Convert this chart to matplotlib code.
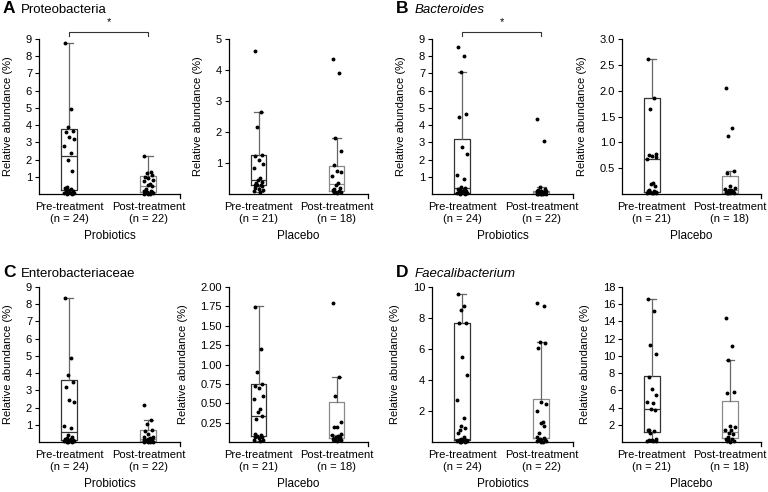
import numpy as np
import matplotlib.pyplot as plt

plt.rcParams['font.family'] = ['Liberation Sans', 'DejaVu Sans']

groups = ['Pre-treatment', 'Post-treatment']
n_probiotics = [24, 22]
n_placebo = [21, 18]

# box stats per group: whislo, q1, median, q3, whishi
proteo_pro_box = [[0.0, 0.22, 2.2, 3.75, 8.75], [0.0, 0.1, 0.45, 1.05, 2.2]]
proteo_pro_pts = [[8.75, 4.95, 3.9, 3.65, 3.6, 3.3, 3.2, 2.8, 2.4, 1.95, 1.35, 0.4, 0.35,
                   0.3, 0.25, 0.2, 0.15, 0.1, 0.08, 0.05, 0.05, 0.03, 0.02, 0.01],
                  [2.2, 1.25, 1.2, 1.1, 1.0, 0.9, 0.8, 0.75, 0.6, 0.5, 0.45, 0.3, 0.2,
                   0.15, 0.1, 0.1, 0.05, 0.05, 0.03, 0.02, 0.01, 0.0]]
proteo_pla_box = [[0.08, 0.29, 0.44, 1.25, 2.65], [0.05, 0.11, 0.32, 0.9, 1.8]]
proteo_pla_pts = [[4.6, 2.65, 2.15, 1.25, 1.22, 1.1, 0.97, 0.85, 0.5, 0.45, 0.4, 0.35,
                   0.3, 0.3, 0.28, 0.25, 0.2, 0.15, 0.12, 0.1, 0.08],
                  [4.35, 3.9, 1.8, 1.4, 0.95, 0.75, 0.72, 0.58, 0.35, 0.3, 0.2, 0.15,
                   0.12, 0.1, 0.08, 0.06, 0.05, 0.04]]

bactero_pro_box = [[0.0, 0.05, 0.33, 3.18, 7.11], [0.0, 0.02, 0.12, 0.2, 0.38]]
bactero_pro_pts = [[8.55, 8.0, 7.1, 4.65, 4.5, 2.75, 2.3, 1.1, 0.85, 0.4, 0.35, 0.3, 0.28,
                    0.25, 0.2, 0.2, 0.15, 0.1, 0.08, 0.05, 0.05, 0.03, 0.02, 0.01],
                   [4.35, 3.1, 0.38, 0.3, 0.25, 0.2, 0.18, 0.15, 0.12, 0.1, 0.1, 0.08,
                    0.06, 0.05, 0.04, 0.03, 0.02, 0.02, 0.01, 0.01, 0.0, 0.0]]
bactero_pla_box = [[0.01, 0.03, 0.67, 1.86, 2.61], [0.01, 0.01, 0.07, 0.34, 0.45]]
bactero_pla_pts = [[2.62, 1.86, 1.65, 0.77, 0.75, 0.73, 0.72, 0.68, 0.22, 0.2, 0.15, 0.08,
                    0.06, 0.05, 0.04, 0.03, 0.03, 0.02, 0.02, 0.01, 0.01],
                   [2.05, 1.27, 1.12, 0.45, 0.4, 0.15, 0.12, 0.1, 0.08, 0.07, 0.06, 0.05,
                    0.04, 0.03, 0.02, 0.02, 0.01, 0.01]]

entero_pro_box = [[0.0, 0.14, 0.6, 3.6, 8.35], [0.0, 0.08, 0.2, 0.7, 1.28]]
entero_pro_pts = [[8.35, 4.9, 3.9, 3.5, 3.2, 2.45, 2.35, 0.95, 0.8, 0.4, 0.3, 0.25, 0.2,
                   0.15, 0.1, 0.1, 0.08, 0.05, 0.05, 0.04, 0.03, 0.02, 0.01, 0.01],
                  [2.15, 1.25, 1.05, 0.7, 0.65, 0.45, 0.3, 0.28, 0.25, 0.2, 0.15, 0.12,
                   0.1, 0.08, 0.06, 0.05, 0.04, 0.03, 0.02, 0.02, 0.01, 0.0]]
entero_pla_box = [[0.01, 0.08, 0.34, 0.75, 1.75], [0.01, 0.05, 0.095, 0.51, 0.84]]
entero_pla_pts = [[1.74, 1.2, 0.9, 0.75, 0.72, 0.7, 0.6, 0.55, 0.43, 0.39, 0.33, 0.3, 0.1,
                   0.09, 0.08, 0.07, 0.06, 0.05, 0.03, 0.02, 0.01],
                  [1.79, 0.84, 0.6, 0.26, 0.2, 0.19, 0.1, 0.09, 0.08, 0.07, 0.06, 0.05,
                   0.04, 0.04, 0.03, 0.02, 0.02, 0.01]]

faecali_pro_box = [[0.0, 0.13, 0.18, 7.7, 9.57], [0.02, 0.24, 0.28, 2.78, 6.47]]
faecali_pro_pts = [[9.55, 8.75, 8.55, 7.7, 7.65, 5.5, 4.35, 2.7, 1.55, 1.05, 0.9, 0.75,
                    0.6, 0.3, 0.2, 0.15, 0.12, 0.1, 0.08, 0.06, 0.05, 0.03, 0.02, 0.01],
                   [8.95, 8.8, 6.45, 6.4, 6.05, 2.55, 2.45, 2.0, 1.3, 1.25, 1.05, 0.6,
                    0.3, 0.25, 0.2, 0.15, 0.12, 0.1, 0.08, 0.05, 0.03, 0.02]]
faecali_pla_box = [[0.1, 1.2, 3.8, 7.64, 16.6], [0.05, 0.43, 1.16, 4.73, 9.53]]
faecali_pla_pts = [[16.6, 15.2, 11.25, 10.2, 7.6, 6.1, 5.5, 4.7, 4.5, 3.8, 3.7, 1.4, 1.35,
                    1.3, 1.0, 0.3, 0.25, 0.2, 0.15, 0.1, 0.1],
                   [14.4, 11.2, 9.5, 5.85, 5.65, 1.85, 1.7, 1.45, 1.35, 1.0, 0.9, 0.6,
                    0.4, 0.3, 0.2, 0.15, 0.1, 0.05]]

jitter = [-0.05, 0.03, -0.02, 0.05, -0.04, 0.0, 0.06, -0.06, 0.02, -0.01, 0.04, -0.03]

fig = plt.figure(figsize=(7.68, 4.92), dpi=100)


def draw(ax, boxes, pts, ns, ymax, yticks, fmt, xlabel, sig=False):
    stats = [dict(whislo=b[0], q1=b[1], med=b[2], q3=b[3], whishi=b[4], fliers=[]) for b in boxes]
    bp = ax.bxp(stats, positions=[1, 2], widths=0.2, showfliers=False, capwidths=0.11)
    cols = ['#333333', '#8a8a8a']
    for i in range(2):
        bp['boxes'][i].set(color=cols[i], linewidth=0.9)
        bp['medians'][i].set(color=cols[i], linewidth=0.9)
        for w in bp['whiskers'][2 * i:2 * i + 2] + bp['caps'][2 * i:2 * i + 2]:
            w.set(color='#666666', linewidth=0.9)
    for i, p in enumerate(pts):
        xs = [i + 1 + jitter[k % len(jitter)] for k in range(len(p))]
        ax.plot(xs, p, 'o', ms=1.8, color='black', zorder=5, clip_on=False)
    ax.set_xlim(0.62, 2.4)
    ax.set_ylim(0, ymax)
    ax.set_yticks(yticks)
    ax.set_yticklabels([fmt.format(t) for t in yticks])
    ax.set_xticks([1, 2])
    ax.set_xticklabels([f'{g}\n(n = {n})' for g, n in zip(groups, ns)], fontsize=8, linespacing=1.15)
    ax.tick_params(axis='x', length=0, pad=6)
    ax.tick_params(axis='y', length=3, width=0.8, labelsize=8, pad=2)
    for s in ['top', 'right']:
        ax.spines[s].set_visible(False)
    for s in ['left', 'bottom']:
        ax.spines[s].set_linewidth(0.9)
    ax.plot([1, 1], [0, -0.025], transform=ax.transAxes, color='black', lw=0.9, clip_on=False)
    ax.set_ylabel('Relative abundance (%)', fontsize=8, labelpad=9)
    ax.set_xlabel(xlabel, fontsize=8.5, labelpad=5)
    if sig:
        top = ymax * 1.045
        ax.plot([1, 1, 2, 2], [ymax * 1.02, top, top, ymax * 1.02], color='#333333', lw=0.8, clip_on=False)
        ax.text(1.5, top + ymax * 0.03, '*', ha='center', va='bottom', fontsize=8)


panels = [
    ('A', 'Proteobacteria', 'normal', 0.6057,
     proteo_pro_box, proteo_pro_pts, 9, [1, 2, 3, 4, 5, 6, 7, 8, 9], '{:d}', True,
     proteo_pla_box, proteo_pla_pts, 5, [1, 2, 3, 4, 5], '{:d}'),
    ('B', 'Bacteroides', 'italic', 0.6057,
     bactero_pro_box, bactero_pro_pts, 9, [1, 2, 3, 4, 5, 6, 7, 8, 9], '{:d}', True,
     bactero_pla_box, bactero_pla_pts, 3, [0.5, 1.0, 1.5, 2.0, 2.5, 3.0], '{:.1f}'),
    ('C', 'Enterobacteriaceae', 'normal', 0.1016,
     entero_pro_box, entero_pro_pts, 9, [1, 2, 3, 4, 5, 6, 7, 8, 9], '{:d}', False,
     entero_pla_box, entero_pla_pts, 2, [0.25, 0.5, 0.75, 1.0, 1.25, 1.5, 1.75, 2.0], '{:.2f}'),
    ('D', 'Faecalibacterium', 'italic', 0.1016,
     faecali_pro_box, faecali_pro_pts, 10, [2, 4, 6, 8, 10], '{:d}', False,
     faecali_pla_box, faecali_pla_pts, 18, [2, 4, 6, 8, 10, 12, 14, 16, 18], '{:d}'),
]

lefts = {'A': (0.0508, 0.298), 'C': (0.0508, 0.298), 'B': (0.5625, 0.81), 'D': (0.5625, 0.81)}

for (letter, title, style, bottom, pbox, ppts, pmax, pticks, pfmt, sig,
     lbox, lpts, lmax, lticks, lfmt) in panels:
    l1, l2 = lefts[letter]
    ax1 = fig.add_axes([l1, bottom, 0.1836, 0.315])
    draw(ax1, pbox, ppts, n_probiotics, pmax, pticks, pfmt, 'Probiotics', sig)
    ax2 = fig.add_axes([l2, bottom, 0.181, 0.315])
    draw(ax2, lbox, lpts, n_placebo, lmax, lticks, lfmt, 'Placebo')
    ty = bottom + 0.315 + (0.052 if bottom > 0.5 else 0.02)
    fig.text(l1 - 0.047, ty, letter, fontsize=12.5, fontweight='bold', va='baseline')
    fig.text(l1 - 0.023, ty, title, fontsize=9.5, style=style, va='baseline')

fig.savefig('out.png', dpi=100)
